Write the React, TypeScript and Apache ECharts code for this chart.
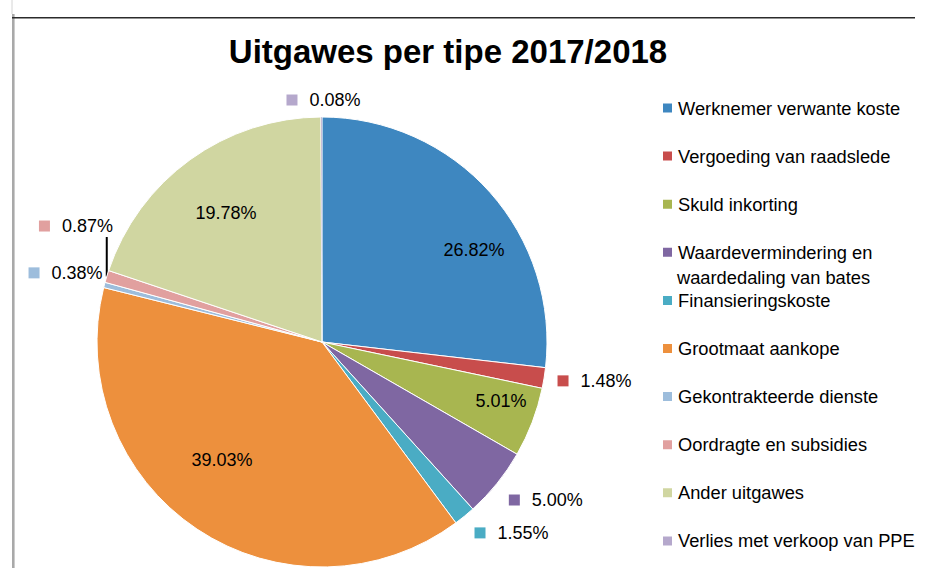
import React, { useEffect, useRef } from "react";
import * as echarts from "echarts";

const TITLE = "Uitgawes per tipe 2017/2018";

const CATEGORIES = [
  "Werknemer verwante koste",
  "Vergoeding van raadslede",
  "Skuld inkorting",
  "Waardevermindering en waardedaling van bates",
  "Finansieringskoste",
  "Grootmaat aankope",
  "Gekontrakteerde dienste",
  "Oordragte en subsidies",
  "Ander uitgawes",
  "Verlies met verkoop van PPE",
];

const VALUES = [26.82, 1.48, 5.01, 5.0, 1.55, 39.03, 0.38, 0.87, 19.78, 0.08];

const COLORS = [
  "#3E87C0",
  "#C84D4C",
  "#A8B650",
  "#7F67A2",
  "#4AACC4",
  "#ED903D",
  "#9DBDDC",
  "#E1A09F",
  "#D0D6A1",
  "#B5A8CC",
];

// legend entry that wraps onto two lines
const WRAP_INDEX = 3;
const WRAP_LINES = ["Waardevermindering en", "waardedaling van bates"];

// labels drawn outside the pie with a colour key
const OUTSIDE_LABELS = [1, 3, 4, 6, 7, 9];
// label with a leader line
const LEADER_INDEX = 7;

// layout (pixels / degrees)
const CX = 322;
const CY = 342;
const R = 225;
const LABEL_RADIUS = [177.7, 275.3, 188.5, 274, 269, 154.7, 265.6, 272, 160.8, 242];
const LABEL_SHIFT = [10.5, -1.1, -2.7, -3.7, -5.5, 6.5, 0.4, 8.3, -0.8, 0.5];

const FONT = "'Liberation Sans', Arial, Helvetica, sans-serif";

export default function App() {
  const ref = useRef<HTMLDivElement | null>(null);

  useEffect(() => {
    if (!ref.current) return;
    const chart = echarts.init(ref.current, undefined, { renderer: "svg" });

    const total = VALUES.reduce((a, b) => a + b, 0);
    const mids: number[] = [];
    let acc = 0;
    VALUES.forEach((v) => {
      mids.push(((acc + v / 2) / total) * 360);
      acc += v;
    });

    const polar = (r: number, deg: number) => {
      const a = (deg * Math.PI) / 180;
      return [CX + r * Math.sin(a), CY - r * Math.cos(a)];
    };

    const data = CATEGORIES.map((name, i) => {
      const outside = OUTSIDE_LABELS.indexOf(i) >= 0;
      return {
        name,
        value: VALUES[i],
        itemStyle: {
          color: COLORS[i],
          borderColor: "#ffffff",
          borderWidth: i === 9 ? 0.3 : 1,
        },
        label: {
          formatter: outside
            ? "{m|}{t|" + VALUES[i].toFixed(2) + "%}"
            : "{t|" + VALUES[i].toFixed(2) + "%}",
          rich: {
            m: {
              width: 11,
              height: 11,
              backgroundColor: COLORS[i],
            },
            t: {
              fontSize: 18,
              fontFamily: FONT,
              color: "#000000",
              padding: outside ? [0, 0, 0, 12] : 0,
            },
          },
        },
        labelLine: {
          show: i === LEADER_INDEX,
          lineStyle: { color: "#000000", width: 2 },
        },
      };
    });

    chart.setOption({
      animation: false,
      backgroundColor: "#ffffff",
      title: {
        text: TITLE,
        left: 443,
        top: 30,
        textAlign: "center",
        textStyle: {
          fontFamily: FONT,
          fontSize: 33,
          fontWeight: "bold",
          color: "#000000",
        },
      },
      legend: {
        orient: "vertical",
        left: 656,
        top: 93,
        itemWidth: 11,
        itemHeight: 11,
        itemGap: 28.1,
        icon: "rect",
        selectedMode: false,
        data: CATEGORIES,
        formatter: (name: string) =>
          name === CATEGORIES[WRAP_INDEX] ? WRAP_LINES[0] : name,
        textStyle: {
          fontFamily: FONT,
          fontSize: 18.3,
          lineHeight: 20,
          color: "#000000",
        },
      },
      graphic: [
        {
          type: "line",
          shape: { x1: 12, y1: 0, x2: 12, y2: 14 },
          style: { stroke: "#d4d4d4", lineWidth: 1 },
          silent: true,
        },
        {
          type: "line",
          shape: { x1: 13.3, y1: 14, x2: 13.3, y2: 568 },
          style: { stroke: "#a9a9a9", lineWidth: 2.6 },
          silent: true,
        },
        {
          type: "line",
          shape: { x1: 12, y1: 17.8, x2: 915, y2: 17.8 },
          style: { stroke: "#2b2b2b", lineWidth: 1.6 },
          silent: true,
        },
        {
          type: "text",
          x: 677,
          y: 277,
          style: {
            text: WRAP_LINES[1],
            fontFamily: FONT,
            fontSize: 18.3,
            fill: "#000000",
            verticalAlign: "middle",
            align: "left",
          },
          silent: true,
        },
      ],
      series: [
        {
          type: "pie",
          center: [CX, CY],
          radius: R,
          startAngle: 90,
          clockwise: true,
          avoidLabelOverlap: false,
          label: {
            show: true,
            position: "outside",
            color: "#000000",
          },
          labelLine: { show: false },
          labelLayout: (p: any) => {
            const i = p.dataIndex;
            const [x, y] = polar(LABEL_RADIUS[i], mids[i] + LABEL_SHIFT[i]);
            const out: any = { x, y, align: "center", verticalAlign: "middle" };
            if (i === LEADER_INDEX) {
              const [sx, sy] = polar(R, mids[i]);
              const ey = y + 11;
              out.labelLinePoints = [
                [sx, sy],
                [sx, (sy + ey) / 2],
                [sx, ey],
              ];
            }
            return out;
          },
          emphasis: { disabled: true },
          data,
        },
      ],
    });

    return () => chart.dispose();
  }, []);

  return (
    <div
      ref={ref}
      style={{ position: "absolute", left: 0, top: 0, width: 940, height: 568 }}
    />
  );
}
